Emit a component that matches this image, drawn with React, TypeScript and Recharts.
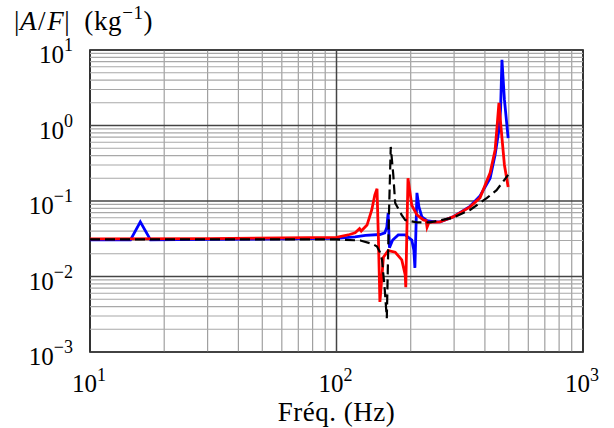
import React from 'react'
import { LineChart, Line, XAxis, YAxis, ReferenceLine, ReferenceArea } from 'recharts'

// frequency (Hz) / |A/F| (kg^-1)
const blueFreq = [10, 14.6, 16, 17.6, 30, 60, 100, 119, 131, 150, 157, 160, 162, 164, 169, 178, 190, 202, 206, 208, 210, 212, 216, 222, 233, 250, 263, 297, 348, 382, 420, 440, 456, 463, 469, 480, 497]
const blueAmp = [0.0305, 0.0305, 0.053, 0.0305, 0.031, 0.0315, 0.032, 0.0334, 0.035, 0.036, 0.0378, 0.045, 0.069, 0.024, 0.0304, 0.0356, 0.0356, 0.0304, 0.0223, 0.013, 0.041, 0.128, 0.0836, 0.0616, 0.055, 0.053, 0.053, 0.0616, 0.085, 0.117, 0.2, 0.41, 0.87, 1.6, 7.4, 2.2, 0.68]

const redFreq = [10, 30, 60, 100, 113, 119, 124, 126, 133, 139, 143, 146, 148, 150, 155, 162, 173, 184, 190, 191, 193, 195, 202, 212, 225, 231, 233, 237, 263, 297, 348, 382, 420, 440, 448, 456, 466, 480, 497]
const redAmp = [0.0315, 0.0318, 0.0325, 0.033, 0.036, 0.038, 0.043, 0.04, 0.048, 0.076, 0.12, 0.145, 0.03, 0.0046, 0.018, 0.022, 0.021, 0.0166, 0.0105, 0.0072, 0.041, 0.2, 0.088, 0.0654, 0.0562, 0.055, 0.045, 0.052, 0.053, 0.0616, 0.0836, 0.11, 0.236, 0.474, 0.96, 1.99, 0.87, 0.3, 0.153]

const blackFreq = [10, 100, 125, 140, 146, 150, 153, 157, 160, 163, 166, 170, 173, 184, 190, 212, 239, 297, 348, 408, 446, 497]
const blackAmp = [0.031, 0.031, 0.03, 0.027, 0.025, 0.021, 0.0166, 0.0066, 0.0028, 0.056, 0.52, 0.22, 0.094, 0.065, 0.056, 0.052, 0.052, 0.06, 0.076, 0.11, 0.139, 0.222]

const xTicks = [10, 100, 1000]
const yTicks = [0.001, 0.01, 0.1, 1, 10]
const xMinor = [20, 30, 40, 50, 60, 70, 80, 90, 200, 300, 400, 500, 600, 700, 800, 900]
const yDecades = [0.001, 0.01, 0.1, 1]
const yMinor = yDecades.flatMap(d => [2, 3, 4, 5, 6, 7, 8, 9].map(m => d * m))

const toData = (f: number[], a: number[]) => f.map((v, i) => ({ f: v, a: a[i] }))

const FONT = "'Liberation Serif', 'Times New Roman', serif"

function XTick({ x, y, payload }: any) {
  const e = Math.round(Math.log10(payload.value))
  return (
    <text x={x - 1} y={y + 32} textAnchor="middle" style={{ fontFamily: FONT }} fontSize={25} fill="#000">
      10<tspan fontSize={18} dy={-11}>{e}</tspan>
    </text>
  )
}

function YTick({ x, y, payload }: any) {
  const e = Math.round(Math.log10(payload.value))
  const label = e < 0 ? `\u2212${-e}` : `${e}`
  return (
    <text x={x - 9} y={y + 13} textAnchor="end" style={{ fontFamily: FONT }} fontSize={25} fill="#000">
      10<tspan fontSize={18} dy={-12}>{label}</tspan>
    </text>
  )
}

export default function App() {
  return (
    <div style={{ position: 'absolute', left: 0, top: 0, width: 614, height: 428, background: '#fff' }}>
      <div style={{ position: 'absolute', left: 14, top: 8, fontFamily: FONT, fontSize: 27, lineHeight: '27px', whiteSpace: 'nowrap', letterSpacing: 0.6 }}>
        |<i style={{ marginRight: 1 }}>A</i>/<i style={{ marginLeft: 1 }}>F</i>|
        <span style={{ marginLeft: 14 }}>(kg</span>
        <span style={{ fontSize: 19, position: 'relative', top: -11 }}>{'\u22121'}</span>)
      </div>
      <div style={{ position: 'absolute', left: 90, width: 493, top: 399, textAlign: 'center', fontFamily: FONT, fontSize: 27, lineHeight: '27px', letterSpacing: 0.5 }}>
        Fréq. (Hz)
      </div>
      <LineChart width={614} height={428} margin={{ top: 50, right: 31, bottom: 0, left: 0 }}>
        <XAxis
          dataKey="f"
          type="number"
          scale="log"
          domain={[10, 1000]}
          ticks={xTicks}
          tick={<XTick />}
          tickLine={false}
          axisLine={false}
          height={76}
          allowDataOverflow
        />
        <YAxis
          dataKey="a"
          type="number"
          scale="log"
          domain={[0.001, 10]}
          ticks={yTicks}
          tick={<YTick />}
          tickLine={false}
          axisLine={false}
          width={90}
          allowDataOverflow
        />
        {xMinor.map(v => <ReferenceLine key={'xm' + v} x={v} stroke="#a0a0a0" strokeWidth={1.2} />)}
        {yMinor.map(v => <ReferenceLine key={'ym' + v} y={v} stroke="#a8a8a8" strokeWidth={1.2} />)}
        <ReferenceLine x={100} stroke="#444" strokeWidth={1.5} />
        {yTicks.map(v => <ReferenceLine key={'yM' + v} y={v} stroke="#444" strokeWidth={1.5} />)}
        <Line data={toData(blueFreq, blueAmp)} dataKey="a" stroke="#0000ff" strokeWidth={2.8} dot={false} isAnimationActive={false} />
        <Line data={toData(redFreq, redAmp)} dataKey="a" stroke="#ff0000" strokeWidth={2.8} dot={false} isAnimationActive={false} />
        <Line data={toData(blackFreq, blackAmp)} dataKey="a" stroke="#000" strokeWidth={2.2} strokeDasharray="10 5" dot={false} isAnimationActive={false} />
        <ReferenceArea x1={10} x2={1000} y1={0.001} y2={10} fill="none" fillOpacity={0} stroke="#000" strokeWidth={1.6} />
      </LineChart>
    </div>
  )
}
